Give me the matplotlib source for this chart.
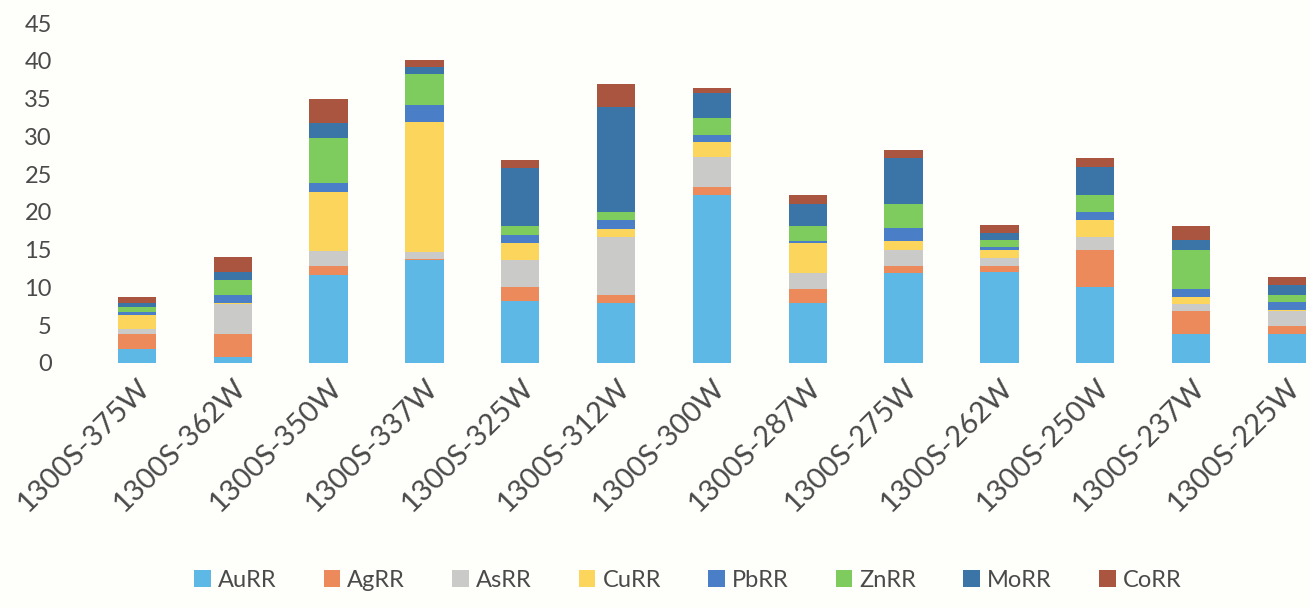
import matplotlib
matplotlib.use("Agg")
import matplotlib.pyplot as plt
import matplotlib.transforms as mtransforms
import numpy as np

plt.rcParams['font.family'] = ['Lato', 'DejaVu Sans']

samples = ["1300S-375W", "1300S-362W", "1300S-350W", "1300S-337W", "1300S-325W",
           "1300S-312W", "1300S-300W", "1300S-287W", "1300S-275W", "1300S-262W",
           "1300S-250W", "1300S-237W", "1300S-225W"]

au_rr = [1.8, 0.8, 11.7, 13.7, 8.2, 7.9, 22.2, 7.9, 11.9, 12.1, 10.0, 3.8, 3.8]
ag_rr = [2.0, 3.0, 1.1, 0.1, 1.8, 1.1, 1.1, 1.9, 0.9, 0.8, 4.9, 3.1, 1.1]
as_rr = [0.7, 4.0, 2.0, 0.9, 3.7, 7.7, 4.0, 2.1, 2.1, 1.0, 1.8, 0.9, 2.0]
cu_rr = [1.8, 0.1, 7.9, 17.2, 2.2, 1.1, 2.0, 4.0, 1.2, 1.1, 2.2, 0.9, 0.1]
pb_rr = [0.4, 1.1, 1.1, 2.2, 1.1, 1.1, 0.9, 0.3, 1.8, 0.3, 1.1, 1.1, 1.1]
zn_rr = [0.7, 2.0, 6.0, 4.2, 1.1, 1.1, 2.2, 1.9, 3.1, 1.0, 2.2, 5.2, 0.9]
mo_rr = [0.6, 1.0, 2.0, 0.9, 7.7, 13.9, 3.3, 3.0, 6.2, 0.9, 3.8, 1.3, 1.3]
co_rr = [0.7, 2.0, 3.1, 0.9, 1.1, 3.1, 0.7, 1.1, 1.0, 1.1, 1.1, 1.8, 1.1]

series = [("AuRR", au_rr, "#5db8e6"),
          ("AgRR", ag_rr, "#ec8a5c"),
          ("AsRR", as_rr, "#cacac8"),
          ("CuRR", cu_rr, "#fbd55c"),
          ("PbRR", pb_rr, "#4a7fc8"),
          ("ZnRR", zn_rr, "#7ecb5e"),
          ("MoRR", mo_rr, "#3b74a6"),
          ("CoRR", co_rr, "#a9553f")]

bg = "#fefefb"
text_col = "#4a4a4a"
fig = plt.figure(figsize=(13.1, 6.08), dpi=100, facecolor=bg)
ax = fig.add_axes([0.046, 0.403, 0.954, 0.559], facecolor=bg)

x = np.arange(len(samples))
bottom = np.zeros(len(samples))
for name, vals, col in series:
    vals = np.array(vals)
    ax.bar(x, vals, width=0.4, bottom=bottom, color=col, label=name,
           edgecolor="none")
    bottom += vals

ax.set_xlim(-0.80, 12.24)
ax.set_ylim(0, 45)
ax.set_yticks(np.arange(0, 46, 5))
ax.set_xticks(x)
ax.set_xticklabels(samples, rotation=45, ha="right", rotation_mode="anchor",
                   fontsize=21, color=text_col)
shift = mtransforms.ScaledTranslation(9 / 100, -4 / 100, fig.dpi_scale_trans)
for lbl in ax.get_xticklabels():
    lbl.set_transform(lbl.get_transform() + shift)
ax.tick_params(axis="y", labelsize=17, labelcolor=text_col, length=0, pad=6)
ax.tick_params(axis="x", length=0, pad=8)
for s in ax.spines.values():
    s.set_visible(False)

fig.legend(loc="lower center", bbox_to_anchor=(0.525, -0.007), ncol=8,
           frameon=False, fontsize=17, handlelength=0.7, handleheight=0.7,
           handletextpad=0.3, columnspacing=2.0, labelcolor=text_col)

fig.savefig("out.png", dpi=100, facecolor=bg)
